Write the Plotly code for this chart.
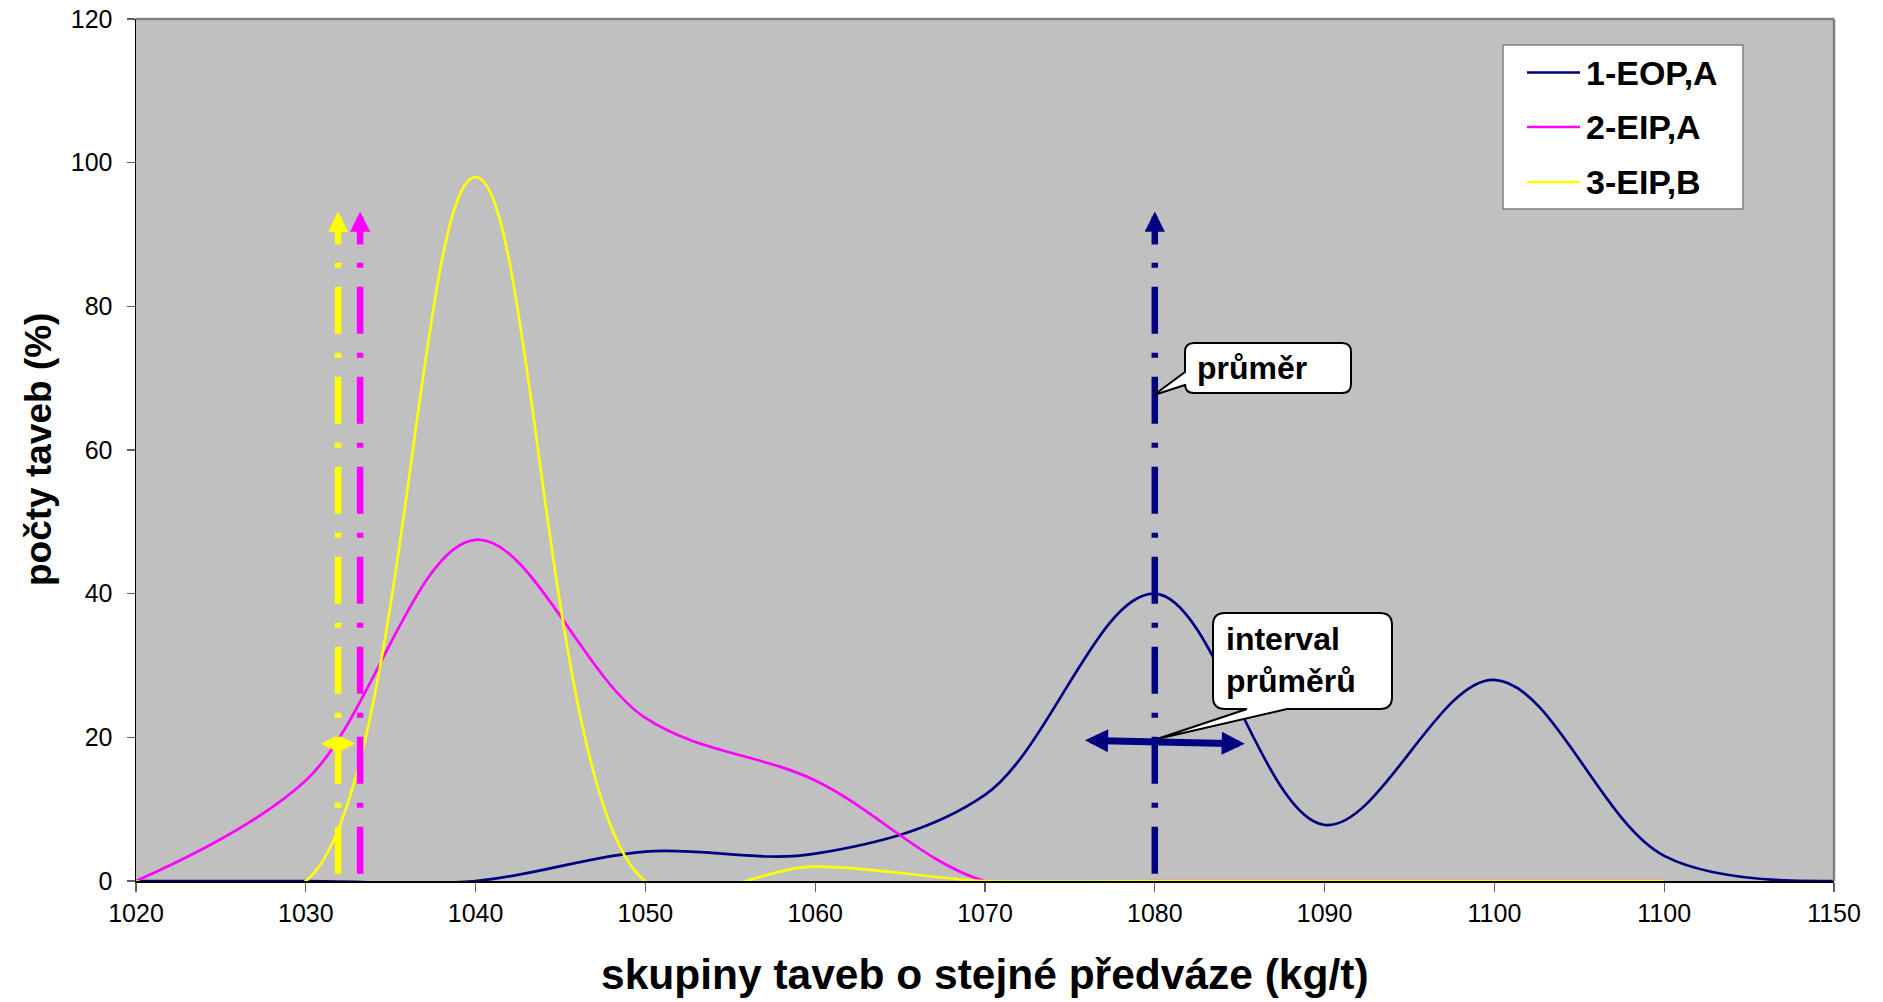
import numpy as np
import plotly.graph_objects as go

# ---------------- data ----------------
categories = ["1020", "1030", "1040", "1050", "1060", "1070", "1080", "1090", "1100", "1100", "1150"]
cat_values = [1020, 1030, 1040, 1050, 1060, 1070, 1080, 1090, 1100]   # increasing part, used to place means

series_names = ["1-EOP,A", "2-EIP,A", "3-EIP,B"]
eop_a = [0, 0, 0, 4.1, 3.8, 12, 40, 7.8, 28, 3.5, 0]
eip_a = [0, 14, 47.5, 22.7, 14, 0, 0, 0, 0, 0]
eip_b = [0, 0, 98, 0, 2, 0, 0, 0, 0, 0]

# means (kg/t) for each series and arrow top value (%)
mean_values = [1080.0, 1033.2, 1031.9]
mean_top = 93.2
# intervals of means (kg/t) and their height (%)
interval_eop = [1075.8, 1085.3]
interval_eop_y = [19.6, 19.1]
interval_eipb = [1030.8, 1032.9]
interval_eipb_y = [19.1, 19.1]

y_ticks = [0, 20, 40, 60, 80, 100, 120]

# ---------------- style ----------------
colors = ["#000080", "#FF00FF", "#FFFF00"]
FONT = "Liberation Sans, Arial, sans-serif"
W, H = 1883, 1002
# plot area in page pixels
PL, PR, PT, PB = 136, 1834, 19, 881
PW, PH = PR - PL, PB - PT
L, T, R, B = PL, PT, W - PR, H - PB


def px_x(px):
    return (px - PL) / PW


def px_y(py):
    return (PB - py) / PH


def to_idx(v):
    return float(np.interp(v, cat_values, np.arange(len(cat_values))))


x_all = np.arange(len(categories))
series = [eop_a, eip_a, eip_b]

fig = go.Figure()
for name, vals, col in zip(series_names, series, colors):
    fig.add_trace(go.Scatter(
        x=x_all[:len(vals)], y=vals, mode="lines", name=name,
        line=dict(color=col, width=2.7, shape="spline", smoothing=1.0),
        showlegend=False, hoverinfo="skip"))

annotations = []
shapes = []

# vertical mean lines with arrow heads
for mv, col in zip(mean_values, colors):
    xi = to_idx(mv)
    fig.add_trace(go.Scatter(
        x=[xi, xi], y=[1, 88.6], mode="lines", showlegend=False, hoverinfo="skip",
        line=dict(color=col, width=6.5, dash="47px,19px,5px,19px")))
    annotations.append(dict(
        x=xi, y=mean_top, ax=xi, ay=88.4, xref="x", yref="y", axref="x", ayref="y",
        text="", showarrow=True, arrowhead=2, arrowsize=0.62, arrowwidth=6.5,
        arrowcolor=col, standoff=0))

# interval double arrows
for iv, ivy, col, aw, asz in [(interval_eop, interval_eop_y, colors[0], 7, 0.66),
                              (interval_eipb, interval_eipb_y, colors[2], 4, 0.75)]:
    annotations.append(dict(
        x=to_idx(iv[1]), y=ivy[1], ax=to_idx(iv[0]), ay=ivy[0],
        xref="x", yref="y", axref="x", ayref="y",
        text="", showarrow=True, arrowside="end+start",
        arrowhead=2, startarrowhead=2, arrowsize=asz, startarrowsize=asz,
        arrowwidth=aw, arrowcolor=col, standoff=0, startstandoff=0))


# callout shapes (rounded rect + tail), page pixels -> data coordinates
def dx(px):
    return (px - PL) / PW * 10


def dy(py):
    return (PB - py) / PH * 120


def P(x, y):
    return f"{dx(x):.5f},{dy(y):.5f}"


# "průměr" callout: tail on left edge
bx0, by0, bx1, by1, r = 1185, 343, 1351, 393, 9
path1 = (f"M{P(bx0 + r, by0)} L{P(bx1 - r, by0)} Q{P(bx1, by0)} {P(bx1, by0 + r)} "
         f"L{P(bx1, by1 - r)} Q{P(bx1, by1)} {P(bx1 - r, by1)} L{P(bx0 + r, by1)} "
         f"Q{P(bx0, by1)} {P(bx0, by1 - r)} L{P(bx0, 385)} L{P(1154, 395)} L{P(bx0, 372)} "
         f"L{P(bx0, by0 + r)} Q{P(bx0, by0)} {P(bx0 + r, by0)} Z")
shapes.append(dict(type="path", xref="x", yref="y", path=path1,
                   fillcolor="white", line=dict(color="black", width=2), layer="above"))

# "interval průměrů" callout: tail on bottom edge
bx0, by0, bx1, by1, r = 1213, 613, 1392, 709, 12
path2 = (f"M{P(bx0 + r, by0)} L{P(bx1 - r, by0)} Q{P(bx1, by0)} {P(bx1, by0 + r)} "
         f"L{P(bx1, by1 - r)} Q{P(bx1, by1)} {P(bx1 - r, by1)} L{P(1287, by1)} "
         f"L{P(1157, 739)} L{P(1247, by1)} L{P(bx0 + r, by1)} "
         f"Q{P(bx0, by1)} {P(bx0, by1 - r)} L{P(bx0, by0 + r)} Q{P(bx0, by0)} {P(bx0 + r, by0)} Z")
shapes.append(dict(type="path", xref="x", yref="y", path=path2,
                   fillcolor="white", line=dict(color="black", width=2), layer="above"))

annotations.append(dict(x=px_x(1195), y=px_y(368), xref="paper", yref="paper",
                        text="<b>průměr</b>", showarrow=False, xanchor="left", yanchor="middle",
                        font=dict(family=FONT, size=32, color="black")))
annotations.append(dict(x=px_x(1224), y=px_y(660), xref="paper", yref="paper",
                        text="<b>interval<br>průměrů</b>", showarrow=False, align="left",
                        xanchor="left", yanchor="middle",
                        font=dict(family=FONT, size=32, color="black")))

# plot border (top and right, gray)
shapes.append(dict(type="line", xref="paper", yref="paper", x0=0, x1=1, y0=1, y1=1,
                   line=dict(color="#808080", width=2.5), layer="above"))
shapes.append(dict(type="line", xref="paper", yref="paper", x0=1, x1=1, y0=0, y1=1,
                   line=dict(color="#808080", width=2.5), layer="above"))

# legend (drawn manually to match sample-line length)
shapes.append(dict(type="rect", xref="paper", yref="paper",
                   x0=px_x(1503), x1=px_x(1743), y0=px_y(209), y1=px_y(45),
                   fillcolor="white", line=dict(color="#808080", width=1.5), layer="above"))
legend_rows = [72.5, 127, 182]
for i, (name, col) in enumerate(zip(series_names, colors)):
    yy = legend_rows[i]
    shapes.append(dict(type="line", xref="paper", yref="paper",
                       x0=px_x(1527), x1=px_x(1580), y0=px_y(yy), y1=px_y(yy),
                       line=dict(color=col, width=2.7), layer="above"))
    annotations.append(dict(x=px_x(1584), y=px_y(yy), xref="paper", yref="paper",
                            text=f"<b>{name}</b>", showarrow=False, xanchor="left", yanchor="middle",
                            font=dict(family=FONT, size=34, color="black")))

# axis titles
annotations.append(dict(x=0.5, y=px_y(974), xref="paper", yref="paper",
                        text="<b>skupiny taveb o stejné předváze (kg/t)</b>", showarrow=False,
                        xanchor="center", yanchor="middle",
                        font=dict(family=FONT, size=42.5, color="black")))
annotations.append(dict(x=px_x(38), y=0.5, xref="paper", yref="paper",
                        text="<b>počty taveb (%)</b>", showarrow=False, textangle=-90,
                        xanchor="center", yanchor="middle",
                        font=dict(family=FONT, size=37, color="black")))

fig.update_layout(
    width=W, height=H,
    margin=dict(l=L, r=R, t=T, b=B, autoexpand=False),
    paper_bgcolor="white", plot_bgcolor="#C0C0C0",
    showlegend=False,
    font=dict(family=FONT, color="black"),
    xaxis=dict(range=[0, 10], tickmode="array", tickvals=list(x_all), ticktext=categories,
               showgrid=False, zeroline=False, showline=True, linecolor="black", linewidth=2,
               layer="below traces", ticklabeloverflow="allow",
               ticks="outside", ticklen=9, tickwidth=1.2, tickcolor="#606060",
               tickfont=dict(family=FONT, size=25, color="black")),
    yaxis=dict(range=[0, 120], tickmode="array", tickvals=y_ticks,
               showgrid=False, zeroline=False, showline=True, linecolor="black", linewidth=1.5,
               layer="below traces", ticklabeloverflow="allow",
               ticks="outside", ticklen=8, tickwidth=1.2, tickcolor="#606060",
               ticklabelstandoff=9,
               tickfont=dict(family=FONT, size=25, color="black")),
    annotations=annotations,
    shapes=shapes,
)

# remove the page's default body margin so the 1883x1002 figure fills the window exactly
fig.write_html("out.html",
               config={"displayModeBar": False, "staticPlot": True},
               post_script="document.body.style.margin='0';document.body.style.overflow='hidden';")
